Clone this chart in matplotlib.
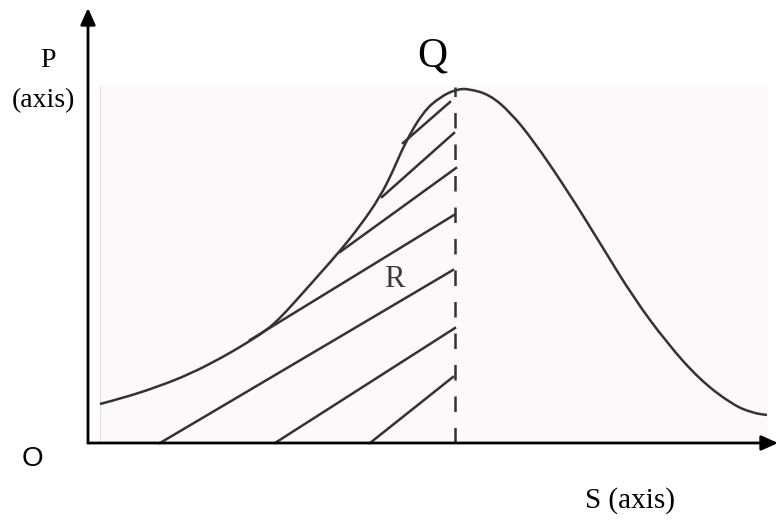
import matplotlib
matplotlib.use("Agg")
import matplotlib.pyplot as plt
from matplotlib.path import Path
from matplotlib.patches import PathPatch

# bell-shaped curve (S, P)
curve_s = [1.2, 3.5, 6.9, 10.2, 13.5, 15.7, 17.9, 19.2, 20.5, 22.9, 25.2,
           27.2, 29.2, 30.5, 31.7, 33.5, 35.2, 36.9, 38.2, 40.2, 42.2,
           44.5, 47.9, 51.2, 54.5, 57.9, 61.2, 64.5, 66.5, 67.9]
curve_p = [3.9, 4.5, 5.6, 6.9, 8.6, 9.9, 11.3, 12.5, 13.9, 16.6, 19.2,
           21.7, 24.6, 27.2, 30.0, 33.1, 34.6, 35.4, 35.4, 34.8, 33.1,
           30.3, 25.3, 20.0, 14.6, 10.0, 6.3, 3.8, 3.0, 2.8]

# hatch lines: start and end points
hatch_s0 = [31.5, 29.4, 25.2, 16.2, 7.2, 18.7, 28.2]
hatch_p0 = [30.0, 24.6, 19.1, 10.3, 0.0, 0.0, 0.0]
hatch_s1 = [36.2, 36.6, 36.8, 36.6, 36.5, 36.7, 36.5]
hatch_p1 = [34.1, 31.0, 27.5, 22.8, 17.3, 11.5, 6.6]

q_s = 36.7
q_top = 35.6

fig = plt.figure(figsize=(7.78, 5.21), dpi=100)
ax = fig.add_axes([0, 0, 1, 1])
ax.set_xlim(-8.8, 69.0)
ax.set_ylim(-7.8, 44.3)
ax.axis("off")

# light pink panel behind the curve
ax.add_patch(plt.Rectangle((1.2, 0), 66.8, 35.8, facecolor="#fdf8fa",
                           edgecolor="none", zorder=0))
ax.plot([1.2, 1.2], [0, 35.8], color="#e6e2e4", lw=0.8, zorder=0)

# smooth the curve through the read points (midpoint quadratic path)
pts = list(zip(curve_s, curve_p))
verts = [pts[0]]
codes = [Path.MOVETO]
for i in range(1, len(pts) - 1):
    mid = ((pts[i][0] + pts[i + 1][0]) / 2, (pts[i][1] + pts[i + 1][1]) / 2)
    verts += [pts[i], mid]
    codes += [Path.CURVE3, Path.CURVE3]
verts.append(pts[-1])
codes.append(Path.LINETO)
ax.add_patch(PathPatch(Path(verts, codes), facecolor="none",
                       edgecolor="#333333", lw=1.8, zorder=3))

for i in range(len(hatch_s0)):
    ax.plot([hatch_s0[i], hatch_s1[i]], [hatch_p0[i], hatch_p1[i]],
            color="#333333", lw=1.8, zorder=3)

ax.plot([q_s, q_s], [0, q_top], color="#333333", lw=1.8,
        dashes=(6.2, 6.4), zorder=3)

# axes with arrows
arrow = dict(arrowstyle="-|>,head_length=1.0,head_width=0.45",
             color="black", lw=2, shrinkA=0, shrinkB=0)
ax.annotate("", xy=(0, 43.5), xytext=(0, 0), arrowprops=arrow)
ax.annotate("", xy=(69.0, 0), xytext=(0, 0), arrowprops=arrow)

serif = "Liberation Serif"
ax.text(-4.0, 38.2, "P", fontsize=20, family=serif, ha="center", va="center")
ax.text(-4.5, 34.2, "(axis)", fontsize=20, family=serif, ha="center",
        va="center")
ax.text(34.4, 38.7, "Q", fontsize=30, family=serif, ha="center",
        va="center")
ax.text(30.6, 16.3, "R", fontsize=22, family=serif, color="#3a3a3a",
        ha="center", va="center")
ax.text(54.2, -5.8, "S (axis)", fontsize=21, family=serif, ha="center",
        va="center")
ax.text(-5.6, -1.6, "O", fontsize=20, family="Liberation Sans",
        ha="center", va="center")

fig.savefig("out.png", dpi=100)
